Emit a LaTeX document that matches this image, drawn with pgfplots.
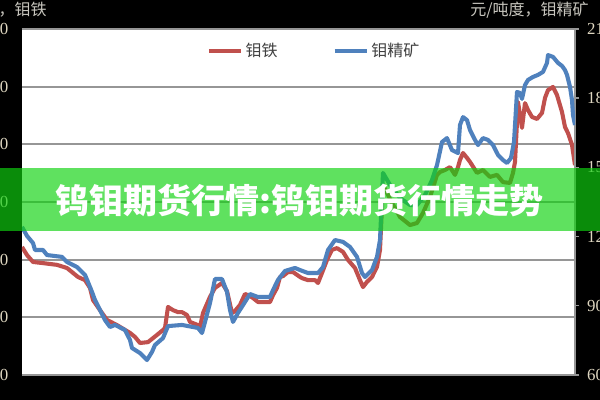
\documentclass[border=0pt]{standalone}
\usepackage{fontspec}
\setmainfont{Liberation Serif}
\newfontfamily\cjk{Noto Sans CJK SC}
\usepackage{pgfplots}
\usepackage{pgfplotstable}
\pgfplotsset{compat=1.18}

\definecolor{moFe}{RGB}{192,80,77}
\definecolor{moConc}{RGB}{79,129,189}
\definecolor{gridgray}{RGB}{150,150,150}
\definecolor{labelcol}{RGB}{222,214,192}
\definecolor{toptext}{RGB}{200,198,190}
\definecolor{legendtext}{RGB}{64,64,64}
\definecolor{banner}{RGB}{15,210,15}

% 钼铁, 元/吨 (left axis); x = week index
\pgfplotstableread{
x y
0 84400
5 81600
11 79200
21 78800
35 78200
45 77100
56 74000
63 72900
68 70200
71 66000
78 62500
85 59100
95 57300
108 54600
113 53200
118 51100
126 51400
135 53900
141 55600
143 56300
146 63600
151 62500
156 61800
160 61800
165 60800
168 58400
176 57300
178 56600
181 61500
188 67100
193 70200
200 71900
205 69100
210 61500
213 62200
218 64300
223 68100
228 67400
231 66700
236 65300
248 65300
251 67700
255 70200
258 74000
261 74300
266 75700
271 75700
278 74000
280 73600
286 72900
293 72900
296 71900
300 75400
305 79900
310 83400
315 84000
321 82700
326 79900
333 77100
338 72900
341 70500
345 72300
350 74000
355 77500
358 83400
361 105900
370 99700
378 94800
388 92000
395 92700
401 96200
408 101700
415 109400
418 110400
423 111100
428 112100
433 109400
436 112100
438 114600
441 117000
445 115300
448 113900
455 110100
461 111100
468 108700
475 109400
481 106900
488 106600
491 110100
493 113900
496 134700
500 125700
503 134300
506 131900
510 129500
515 128800
520 130900
523 136100
526 138800
531 139900
535 137100
540 131200
543 126000
546 123900
550 119800
553 112800
}\feTable

% 钼精矿, 元/吨度 (right axis)
\pgfplotstableread{
x y
0 1242
5 1203
11 1172
13 1142
21 1142
25 1120
40 1112
45 1090
55 1068
63 1034
66 1003
70 960
73 925
78 882
83 838
88 808
93 817
103 795
108 752
110 717
118 695
125 665
130 700
133 730
141 760
146 812
160 817
171 808
176 804
180 782
183 830
188 912
193 1016
200 1016
205 960
208 882
211 830
216 869
221 903
228 951
236 938
248 938
251 968
256 1012
263 1051
273 1064
278 1055
286 1042
296 1042
301 1068
306 1142
313 1185
321 1177
328 1155
335 1112
340 1042
343 1025
350 1055
355 1112
358 1185
361 1476
368 1424
378 1367
388 1337
395 1337
403 1380
410 1445
415 1510
420 1610
425 1627
430 1575
436 1562
438 1684
441 1718
445 1705
448 1662
453 1619
456 1597
461 1627
466 1619
471 1597
476 1554
481 1532
485 1519
489 1541
492 1610
495 1827
498 1823
500 1797
503 1857
506 1879
511 1892
516 1901
521 1914
525 1953
526 1987
531 1979
536 1953
540 1940
543 1922
545 1901
548 1849
550 1792
551 1727
553 1684
}\concTable

\begin{document}
\begin{tikzpicture}
\useasboundingbox (0,0) rectangle (15,10);
\clip (0,0) rectangle (15,10);
\fill[black] (0,0) rectangle (15,10);

\begin{axis}[
    at={(0.55cm,0.625cm)}, anchor=south west,
    scale only axis, width=13.825cm, height=8.65cm,
    xmin=0, xmax=553, ymin=40000, ymax=160000,
    ytick={40000,60000,...,160000},
    xtick=\empty,
    ymajorgrids,
    major grid style={gridgray, line width=1.2pt},
    axis line style={draw=none},
    axis background/.style={fill=white},
    major tick length=0pt,
    scaled y ticks=false,
    yticklabel style={font=\fontsize{12}{14}\selectfont, text=labelcol, xshift=-0.22cm},
    /pgf/number format/fixed,
    /pgf/number format/precision=0,
    /pgf/number format/assume math mode=true,
    /pgf/number format/1000 sep={},
]
\addplot[moFe, line width=2.9pt, line join=round] table {\feTable};
\end{axis}

\begin{axis}[
    at={(0.55cm,0.625cm)}, anchor=south west,
    scale only axis, width=13.825cm, height=8.65cm,
    xmin=0, xmax=553, ymin=600, ymax=2100,
    ytick={600,900,...,2100},
    axis y line*=right, axis x line=none,
    y axis line style={gridgray, line width=1.2pt},
    ytick style={gridgray, line width=1pt},
    tick align=outside, major tick length=0.1cm,
    yticklabel style={font=\fontsize{12}{14}\selectfont, text=labelcol, xshift=0.08cm},
    /pgf/number format/fixed,
    /pgf/number format/precision=0,
    /pgf/number format/assume math mode=true,
    /pgf/number format/1000 sep={},
    legend style={at={(0.529,0.936)}, anchor=center, draw=none, fill=none,
        font=\cjk\fontsize{11.4}{13}\selectfont, text=legendtext,
        legend columns=2,
        /tikz/every even column/.append style={column sep=1.3cm}},
    legend image code/.code={\draw (0cm,0cm) -- (0.8cm,0cm);},
]
\addlegendimage{moFe, line width=2.9pt}
\addlegendentry{钼铁}
\addplot[moConc, line width=2.9pt, line join=round] table {\concTable};
\addlegendentry{钼精矿}
\end{axis}

\node[anchor=east, inner sep=0, text=toptext, font=\cjk\fontsize{11.4}{13}\selectfont] at (1.175,9.75) {元/吨，钼铁};
\node[anchor=west, inner sep=0, text=toptext, font=\cjk\fontsize{11.4}{13}\selectfont] at (11.75,9.75) {元/吨度，钼精矿};

\fill[banner, fill opacity=0.667] (0,4.225) rectangle (15,5.8);
\node[text=white, inner sep=0, font=\cjk\bfseries\fontsize{24.2}{28}\selectfont] at (7.49,5.0) {钨钼期货行情:钨钼期货行情走势};
\end{tikzpicture}
\end{document}
